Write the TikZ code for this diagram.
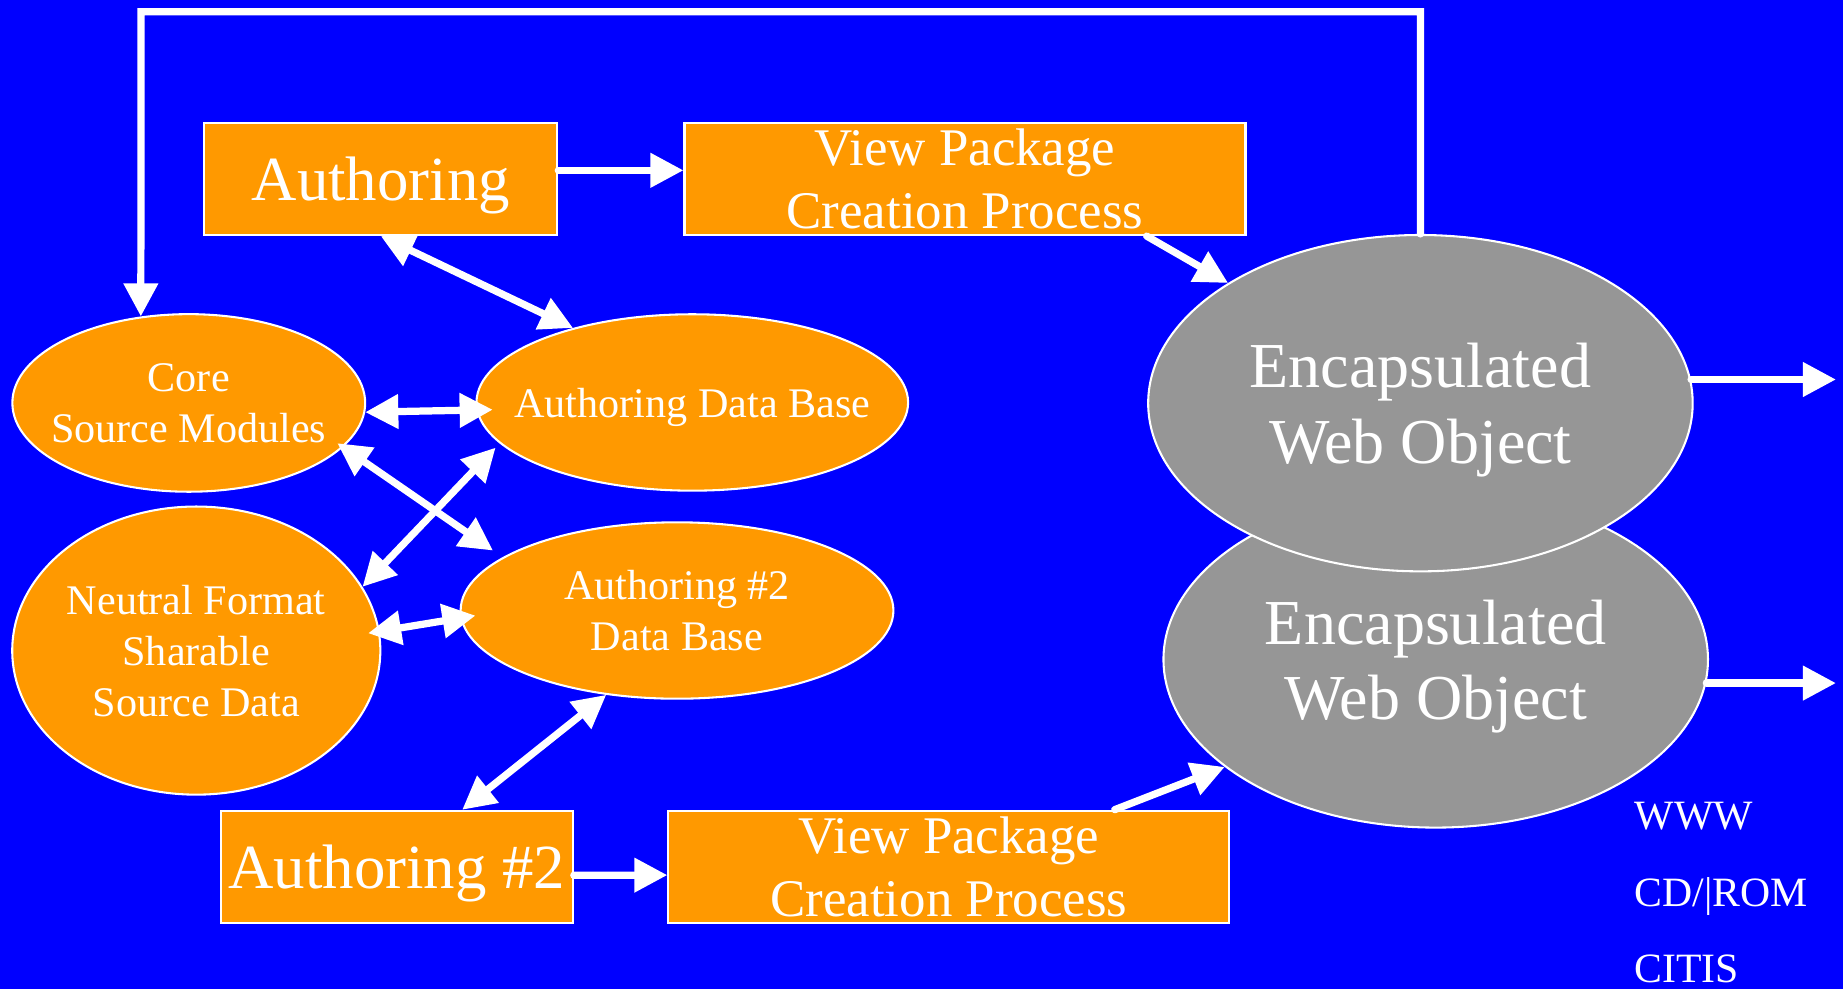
\documentclass[tikz,border=0pt]{standalone}
\usepackage{fontspec}
\setmainfont{Liberation Serif}
\usetikzlibrary{shapes.geometric,arrows.meta}
\definecolor{slideblue}{RGB}{0,0,255}
\definecolor{slideorange}{RGB}{255,153,0}
\definecolor{slidegray}{RGB}{150,150,150}

\begin{document}
\begin{tikzpicture}[x=0.01cm,y=-0.01cm,
                box/.style={rectangle,draw=white,line width=0.5pt,fill=slideorange,text=white,inner sep=0pt,align=center,minimum height=0.955cm},
                blob/.style={ellipse,draw=white,line width=0.5pt,fill=slideorange,text=white,inner xsep=-0.3cm,inner ysep=0pt,text depth=0pt,align=center,font=\fontsize{10.2}{12.3}\selectfont},
                webobj/.style={blob,fill=slidegray,minimum width=4.63cm,minimum height=2.86cm,font=\fontsize{15.5}{18.2}\selectfont},
                media/.style={anchor=base west,text=white,inner sep=0pt,font=\fontsize{10.1}{12}\selectfont},
                link/.style={draw=white,line width=1.75pt,line cap=round,-{Triangle[length=8pt,width=8pt]}},
                both/.style={link,{Triangle[length=8pt,width=8pt]}-{Triangle[length=8pt,width=8pt]}}]
                \path[use as bounding box,fill=slideblue] (0,0) rectangle (1568,841);

                \node[box,minimum width=3cm,text depth=0pt,font=\fontsize{15.2}{18}\selectfont] (auth) at (324,152.2) {Authoring};
                \node[box,minimum width=4.77cm,font=\fontsize{12.8}{15.4}\selectfont] (vp1) at (821,152.2) {View Package\\Creation Process};
                \node[box,minimum width=2.99cm,text depth=0pt,font=\fontsize{15.2}{18}\selectfont] (auth2) at (337.7,737.6) {Authoring \#2};
                \node[box,minimum width=4.77cm,font=\fontsize{12.8}{15.4}\selectfont] (vp2) at (807.3,737.5) {View Package\\Creation Process};

                \node[blob,minimum width=3cm,minimum height=1.51cm] (core) at (160.6,342.8) {Core\\Source Modules};
                \node[blob,minimum width=3.67cm,minimum height=1.5cm] (adb) at (589,342.4) {Authoring Data Base};
                \node[blob,minimum width=3.13cm,minimum height=2.45cm] (nsd) at (167,553.5) {Neutral Format\\Sharable\\Source Data};
                \node[blob,minimum width=3.68cm,minimum height=1.5cm] (a2db) at (576,519.4) {Authoring \#2\\Data Base};
                \node[webobj] (ewo2) at (1221.5,561) {Encapsulated\\Web Object};
                \node[webobj] (ewo1) at (1208.5,343) {Encapsulated\\Web Object};

                \node[media] (www) at (1390,705.5) {WWW};
                \node[media] (cdrom) at (1390,771) {CD/|ROM};
                \node[media] (citis) at (1390,836) {CITIS};

                \coordinate (loop) at (120,10);
                \coordinate (out) at (1562,0);

                \draw[link] ([yshift=0.073cm]auth.east) -- ([yshift=0.073cm]vp1.west);
                \draw[link] ([yshift=-0.07cm]auth2.east) -- ([yshift=-0.07cm]vp2.west);
                \draw[link] ([xshift=1.545cm]vp1.south) -- (ewo1.148);
                \draw[link] ([xshift=1.41cm]vp2.north) -- (ewo2.207);
                \draw[link] (ewo1.north) |- (loop) -- (core.119);
                \draw[link] (ewo1.5) -- (ewo1.5 -| out);
                \draw[link] (ewo2.-5) -- (ewo2.-5 -| out);
                \draw[both] (auth.south) -- (adb.148);
                \draw[both,shorten >=-0.14cm] (core.-3) -- (adb.182);
                \draw[both,shorten <=-0.06cm,shorten >=0.1cm] (core.-16) -- (a2db.163);
                \draw[both,shorten >=0.05cm] (nsd.21) -- (adb.192);
                \draw[both,shorten <=-0.1cm,shorten >=-0.13cm] (nsd.6) -- (a2db.182);
                \draw[both] ([xshift=0.555cm]auth2.north) -- (a2db.230);
            \end{tikzpicture}
\end{document}
